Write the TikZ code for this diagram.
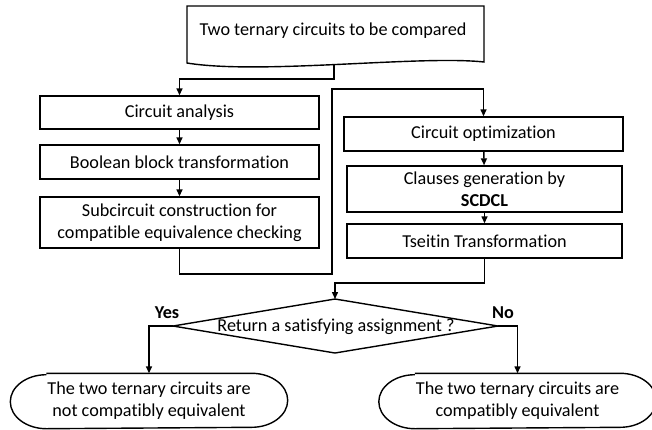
\documentclass[tikz,border=0pt]{standalone}
\usepackage{fontspec}
\setmainfont[Ligatures=NoCommon]{Carlito}
\usetikzlibrary{arrows.meta,calc}
\begin{document}
\begin{tikzpicture}[x=1pt,y=-1pt,line width=1.4pt,
  every node/.style={font=\fontsize{18.2}{22}\selectfont},
  box/.style={draw,rectangle,minimum width=279pt,align=center,inner sep=2pt},
  term/.style={rectangle,minimum width=276pt,minimum height=54pt,align=center,inner sep=0pt},
  arr/.style={-{Triangle[length=7pt,width=6pt]}},
  lab/.style={font=\fontsize{18.2}{22}\selectfont\bfseries}]
\useasboundingbox (0,0) rectangle (652,429);
% document shape
\draw (187,6) -- (484,6) -- (484,62) .. controls (420,55) and (260,75) .. (187,63) -- cycle;
\node (doc) at (333,31) {Two ternary circuits to be compared};
\coordinate (docb) at (334,65);
% left column
\node[box,minimum height=33pt] (b1) at (179.5,112.5) {Circuit analysis};
\node[box,minimum height=34pt] (b2) at (179.5,162) {Boolean block transformation};
\node[box,minimum height=51pt] (b3) at (179.5,222.5) {Subcircuit construction for\\compatible equivalence checking};
% right column
\node[box,minimum height=34pt] (b4) at (483.5,134) {Circuit optimization};
\node[box,minimum width=275pt,minimum height=46pt] (b5) at (484.5,189) {Clauses generation by\\\textbf{SCDCL}};
\node[box,minimum width=275pt,minimum height=34pt] (b6) at (484.5,241) {Tseitin Transformation};
% decision
\coordinate (dt) at (335,299);
\coordinate (dl) at (173,326);
\coordinate (dr) at (498,326);
\coordinate (db) at (335,353);
\draw (dt) -- (dr) -- (db) -- (dl) -- cycle;
\node (dec) at (336,327) {Return a satisfying assignment ?};
\node[lab] (yes) at (167,313) {Yes};
\node[lab] (no) at (503,313) {No};
% terminators
\node[term] (t1) at (149,401) {The two ternary circuits are\\not compatibly equivalent};
\node[term] (t2) at (517.5,401) {The two ternary circuits are\\compatibly equivalent};
\foreach \t in {t1,t2}{
  \draw ([xshift=36pt]\t.north west) -- ([xshift=-36pt]\t.north east)
    arc[start angle=90,end angle=-90,x radius=36pt,y radius=27pt]
    -- ([xshift=36pt]\t.south west)
    arc[start angle=270,end angle=90,x radius=36pt,y radius=27pt];
}
% connectors
\draw[arr] (docb) -- (334,79) -| (b1.north);
\draw[arr] (b1) -- (b2);
\draw[arr] (b2) -- (b3);
\draw[arr] (b3.south) -- (179.5,274) -- (332,274) -- (332,89) -| (b4.north);
\draw[arr] (b4) -- (b5);
\draw[arr] (b5) -- (b6);
\draw[arr] (b6.south) -- (484.5,283) -| (dt);
\draw[arr] (dl) -| (t1.north);
\draw[arr] (dr) -| (t2.north);
\end{tikzpicture}
\end{document}
